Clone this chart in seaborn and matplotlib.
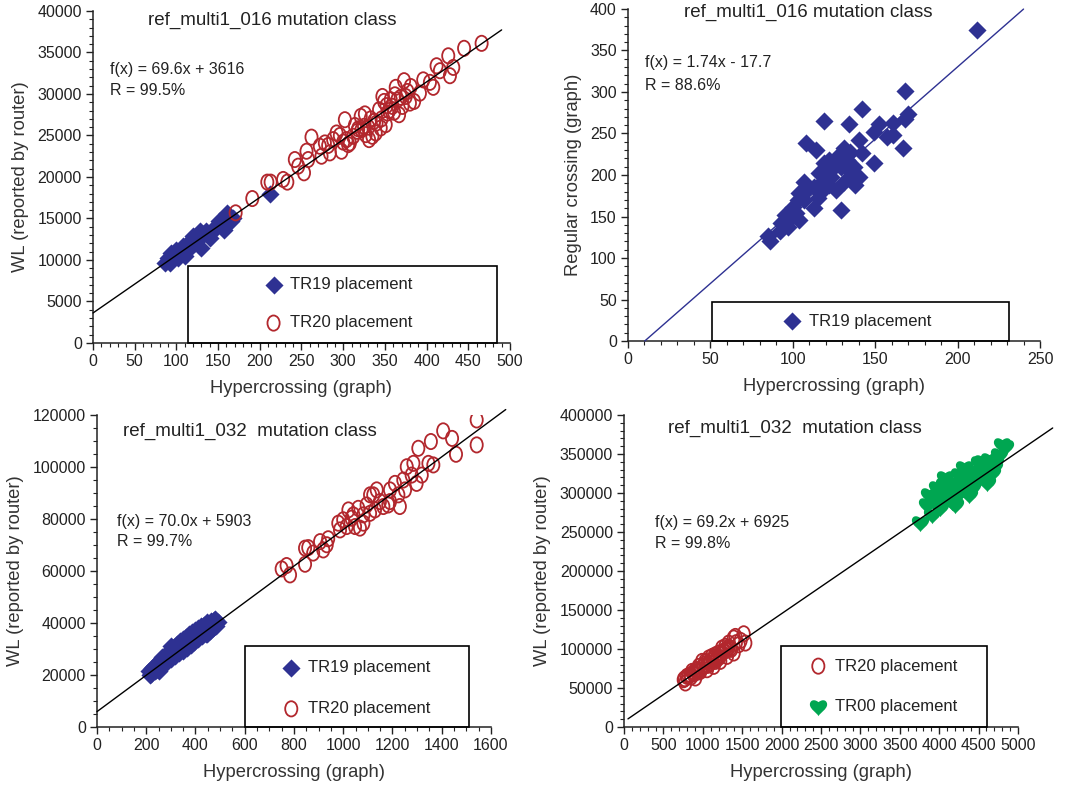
import numpy as np
import seaborn as sns
import matplotlib.pyplot as plt
from matplotlib.path import Path
from matplotlib.transforms import Affine2D
from matplotlib.patches import Rectangle
from matplotlib.ticker import MultipleLocator

# ---- panel 1: ref_multi1_016, WL vs hypercrossing ----
p1_tr19_x = [86, 90, 92, 94, 98, 100, 102, 104, 108, 110, 111, 114, 116, 117, 120, 122, 126,
             128, 130, 132, 136, 138, 140, 145, 148, 151, 153, 157, 161, 165, 168, 212]
p1_tr19_y = [9650, 10250, 9650, 10850, 10450, 11260, 10250, 10850, 11660, 10450, 11060, 12060,
             11460, 12260, 12860, 12060, 12460, 13470, 11460, 13070, 13470, 13070, 12660, 13670,
             14070, 14670, 14870, 13670, 15680, 14670, 15080, 17900]
p1_tr20_x = [171, 191, 209, 213, 228, 233, 242, 246, 253, 256, 258, 272, 274, 278, 284, 288,
             292, 298, 302, 304, 308, 312, 317, 321, 325, 327, 331, 335, 337, 340, 343, 345,
             347, 349, 353, 357, 359, 363, 365, 367, 371, 373, 375, 380, 381, 392, 396, 404,
             408, 412, 416, 426, 428, 432, 445, 466, 330, 352, 318, 362,
             262, 282, 296, 306, 314, 322, 333, 339, 346, 351, 355, 361, 369, 377, 385, 300, 326]
p1_tr20_y = [15680, 17400, 19380, 19380, 19700, 19380, 22100, 21300, 20500, 23100, 22100, 23700,
             22500, 24100, 22900, 24500, 25300, 23100, 26900, 24500, 24100, 24900, 25500, 27300,
             26100, 25100, 24500, 24900, 26700, 26500, 28100, 25900, 29700, 29100, 27700, 29300,
             28500, 30800, 29300, 27500, 28500, 31600, 29700, 28900, 30900, 30100, 31700, 31400,
             30800, 33400, 32800, 34600, 32200, 33200, 35500, 36100, 26000, 28600, 25800, 29900,
             24800, 23800, 25000, 23900, 26200, 25700, 27000, 25300, 27000, 26300, 28000, 27800,
             29600, 30300, 29100, 24200, 27600]
p1_fit = (69.6, 3616)
p1_fit_x = [0, 490]

# ---- panel 2: ref_multi1_016, regular crossing vs hypercrossing ----
p2_tr19_x = [212, 168, 142, 119, 134, 108, 114, 152, 161, 170, 168, 149, 157, 161, 167, 149,
             140, 142, 135, 131, 129, 125, 122, 119, 137, 140, 138, 131, 126, 123, 119, 116,
             117, 113, 113, 129, 107, 108, 104, 103, 100, 102, 99, 96, 95, 93, 92, 85, 86,
             123, 127, 133, 136, 122, 115, 107, 104, 97]
p2_tr19_y = [375, 301, 280, 265, 262, 239, 230, 262, 263, 273, 268, 252, 246, 248, 232, 215,
             242, 226, 228, 232, 210, 214, 218, 214, 210, 198, 188, 192, 182, 198, 194, 202,
             180, 186, 160, 158, 192, 182, 178, 170, 162, 154, 148, 146, 152, 142, 133, 127, 121,
             206, 222, 218, 202, 188, 172, 170, 146, 137]
p2_fit = (1.74, -17.7)
p2_fit_x = [10.2, 240]

# ---- panel 3: ref_multi1_032, WL vs hypercrossing ----
p3_tr19_x = [212, 218, 222, 228, 232, 238, 242, 246, 250, 255, 258, 262, 266, 270, 274, 278,
             282, 286, 290, 294, 298, 302, 306, 310, 314, 318, 322, 326, 330, 334, 338, 342,
             346, 350, 354, 358, 362, 366, 370, 374, 378, 382, 386, 390, 394, 398, 402, 406,
             410, 414, 418, 422, 426, 430, 436, 440, 444, 448, 452, 456, 462, 466, 470, 476,
             480, 486, 446, 300, 250, 480,
             215, 225, 235, 245, 252, 260, 268, 276, 284, 292, 300, 308, 316, 324, 332, 340,
             348, 356, 364, 372, 380, 388, 396, 404, 412, 420, 428, 434, 442, 450, 458, 464,
             472, 478, 484, 490]
p3_tr19_y = [21500, 20200, 22800, 21400, 23600, 22100, 24300, 22900, 25200, 23400, 26200, 24400,
             27000, 23900, 25800, 27700, 25100, 26900, 28600, 26200, 28000, 29800, 27100, 29200,
             30900, 28400, 30300, 32000, 29300, 31200, 33000, 30100, 32300, 33800, 31000, 33100,
             34700, 32000, 34200, 35800, 33200, 35200, 36700, 33900, 35900, 37300, 34800, 36600,
             38100, 35500, 37300, 38700, 36200, 38000, 39300, 36800, 38600, 40200, 37400, 39100,
             40800, 38100, 39900, 41300, 38900, 40400, 35800, 31000, 21500, 41500,
             20000, 21200, 21500, 22800, 22600, 24300, 23800, 25400, 25000, 26600, 26000, 27800,
             27200, 28900, 28300, 30000, 29400, 31100, 30500, 32200, 31600, 33300, 32700, 34400,
             33800, 35500, 34900, 36500, 35800, 37600, 37000, 38700, 38000, 39600, 38800, 40300]
p3_tr20_x = [750, 770, 784, 845, 845, 858, 878, 906, 919, 933, 939, 980, 987, 1000, 1014, 1021,
             1034, 1048, 1061, 1068, 1082, 1095, 1109, 1122, 1129, 1136, 1149, 1163, 1183, 1190,
             1210, 1224, 1230, 1244, 1251, 1258, 1278, 1285, 1298, 1305, 1319, 1346, 1356, 1366,
             1406, 1442, 1458, 1542, 1542, 1109, 1190, 1082, 1041]
p3_tr20_y = [60800, 62100, 58500, 62600, 68800, 69000, 66900, 71300, 68100, 70100, 72400, 78400,
             75800, 79700, 77100, 83500, 80300, 77100, 84100, 76500, 81600, 85400, 82200, 89300,
             83500, 91200, 86700, 84800, 85400, 91200, 93700, 89300, 84800, 95000, 91200, 100100,
             96900, 101400, 93700, 107200, 96900, 101400, 109800, 100800, 113900, 111000, 104900,
             118100, 108500, 89300, 86700, 78400, 81600]
p3_fit = (70.0, 5903)
p3_fit_x = [0, 1660]

# ---- panel 4: ref_multi1_032, WL vs hypercrossing ----
p4_tr20_x = [757, 779, 842, 905, 969, 1011, 1053, 1096, 1138, 1180, 1222, 1265, 1307, 1349,
             1392, 1413, 1519, 1540, 1455, 1328, 1244, 1159, 1074, 990, 926, 863, 799, 1032,
             1117, 1201, 1286, 948, 884, 1159, 1222, 1053, 1392,
             770, 820, 880, 940, 1000, 1060, 1120, 1180, 1240, 1300, 1360, 1420, 1480, 850,
             910, 970, 1030, 1090, 1150, 1210, 1270, 1330]
p4_tr20_y = [60600, 56400, 67000, 62800, 71300, 77700, 73400, 84100, 77700, 88400, 84100, 96900,
             90500, 101200, 94800, 116100, 119500, 107600, 105400, 107600, 101200, 92600, 88400,
             84100, 73400, 71300, 64900, 84100, 90500, 94800, 103300, 77700, 67900, 84100, 92600,
             79800, 114000,
             62000, 65500, 69500, 70500, 78000, 79000, 86500, 87000, 95000, 98500, 99500, 108000,
             111000, 64000, 72500, 73000, 81000, 81500, 89500, 89500, 97500, 102500]
p4_tr00_x = [3760, 3866, 3909, 3845, 3972, 4014, 4057, 4099, 4141, 4183, 4205, 4247, 4268, 4310,
             4332, 4374, 4395, 4437, 4501, 4522, 4564, 4606, 4627, 4670, 4712, 4754, 4797, 4839,
             4627, 4691, 4035, 4120, 4226, 4353, 4416, 4480, 4543, 4162, 3930, 4078]
p4_tr00_y = [261300, 297600, 271900, 284700, 306100, 280500, 310400, 293300, 301800, 312500,
             284700, 323200, 301800, 331700, 310400, 297600, 325300, 314600, 338100, 318900,
             331700, 312500, 342400, 325300, 340200, 348800, 361600, 359400, 327400, 333900,
             297600, 310400, 297600, 318900, 306100, 327400, 340200, 289000, 289000, 318900]
p4_fit = (69.2, 6925)
p4_fit_x = [50, 5440]

BLUE = '#2e3192'
RED = '#b2272d'
GREEN = '#00a651'
TXT = '#222222'

# marker shapes
oval = Path.unit_circle().transformed(Affine2D().scale(0.8, 1.0))
heart = Path([(0, -1), (-0.2, -0.6), (-1, -0.2), (-1, 0.35),
              (-1, 0.8), (-0.55, 1.05), (0, 0.62),
              (0.55, 1.05), (1, 0.8), (1, 0.35),
              (1, -0.2), (0.2, -0.6), (0, -1), (0, -1)],
             [Path.MOVETO, Path.CURVE4, Path.CURVE4, Path.CURVE4,
              Path.CURVE4, Path.CURVE4, Path.CURVE4,
              Path.CURVE4, Path.CURVE4, Path.CURVE4,
              Path.CURVE4, Path.CURVE4, Path.CURVE4, Path.CLOSEPOLY])

sns.set_style('ticks')
plt.rcParams['font.family'] = ['Liberation Sans', 'DejaVu Sans']
plt.rcParams['axes.edgecolor'] = TXT
plt.rcParams['xtick.color'] = TXT
plt.rcParams['ytick.color'] = TXT

fig = plt.figure(figsize=(10.68, 7.89), dpi=100)
ax1 = fig.add_axes([0.0871, 0.5653, 0.3904, 0.4208])
ax2 = fig.add_axes([0.5880, 0.5678, 0.3858, 0.4208])
ax3 = fig.add_axes([0.0908, 0.0786, 0.3689, 0.3954])
ax4 = fig.add_axes([0.5843, 0.0786, 0.3689, 0.3954])


def diamonds(ax, x, y, label):
    sns.scatterplot(x=x, y=y, ax=ax, marker='D', s=85, color=BLUE, edgecolor=BLUE,
                    linewidth=0, label=label, zorder=3)


def ovals(ax, x, y, label):
    sns.scatterplot(x=x, y=y, ax=ax, marker=oval, s=120, color=RED, facecolor='none',
                    edgecolor=RED, linewidth=1.3, label=label, zorder=3)


def hearts(ax, x, y, label):
    sns.scatterplot(x=x, y=y, ax=ax, marker=heart, s=170, color=GREEN, edgecolor=GREEN,
                    linewidth=0, label=label, zorder=3)


def fit_line(ax, fit, xr, color='black'):
    xs = np.array(xr, dtype=float)
    ax.plot(xs, fit[0] * xs + fit[1], color=color, lw=1.0, zorder=4, clip_on=False)


def style(ax, xlim, ylim, xmaj, xmin, ymaj, ymin, ylabel):
    ax.set_xlim(*xlim)
    ax.set_ylim(*ylim)
    ax.xaxis.set_major_locator(MultipleLocator(xmaj))
    ax.xaxis.set_minor_locator(MultipleLocator(xmin))
    ax.yaxis.set_major_locator(MultipleLocator(ymaj))
    ax.yaxis.set_minor_locator(MultipleLocator(ymin))
    ax.tick_params(which='major', direction='out', length=5, width=1, labelsize=11.5, pad=3)
    ax.tick_params(which='minor', direction='out', length=3, width=0.8)
    for s in ['top', 'right']:
        ax.spines[s].set_visible(False)
    for s in ['left', 'bottom']:
        ax.spines[s].set_linewidth(1.1)
    ax.set_xlabel('Hypercrossing (graph)', fontsize=13.2, color='#333333', labelpad=8)
    ax.set_ylabel(ylabel, fontsize=13.2, color='#333333', labelpad=6)


def legend_box(ax, x0, x1, y1, anchor, spacing):
    ax.add_patch(Rectangle((x0, 0), x1 - x0, y1, transform=ax.transAxes, fill=False,
                           edgecolor='black', linewidth=1.2, clip_on=False, zorder=5))
    ax.legend(loc='center left', bbox_to_anchor=anchor, bbox_transform=ax.transAxes,
              frameon=False, handlelength=1.0, handletextpad=0.5, labelspacing=spacing,
              borderpad=0, borderaxespad=0, fontsize=12, scatterpoints=1,
              labelcolor=TXT)


def notes(ax, title, tpos, eq, r, epos, dy):
    ax.text(tpos[0], tpos[1], title, transform=ax.transAxes, ha='center', va='center',
            fontsize=13.5, color=TXT)
    ax.text(epos[0], epos[1], eq, transform=ax.transAxes, ha='left', va='center',
            fontsize=11.5, color=TXT)
    ax.text(epos[0], epos[1] - dy, r, transform=ax.transAxes, ha='left', va='center',
            fontsize=11.5, color=TXT)


# panel 1
diamonds(ax1, p1_tr19_x, p1_tr19_y, 'TR19 placement')
ovals(ax1, p1_tr20_x, p1_tr20_y, 'TR20 placement')
fit_line(ax1, p1_fit, p1_fit_x)
style(ax1, (0, 500), (0, 40000), 50, 10, 5000, 1000, 'WL (reported by router)')
legend_box(ax1, 0.228, 0.969, 0.232, (0.413, 0.118), 1.4)
notes(ax1, 'ref_multi1_016 mutation class', (0.429, 0.973),
      'f(x) = 69.6x + 3616', 'R = 99.5%', (0.041, 0.825), 0.066)

# panel 2
diamonds(ax2, p2_tr19_x, p2_tr19_y, 'TR19 placement')
fit_line(ax2, p2_fit, p2_fit_x, color=BLUE)
style(ax2, (0, 250), (0, 400), 50, 10, 50, 10, 'Regular crossing (graph)')
legend_box(ax2, 0.204, 0.925, 0.117, (0.379, 0.060), 1.1)
notes(ax2, 'ref_multi1_016 mutation class', (0.437, 0.991),
      'f(x) = 1.74x - 17.7', 'R = 88.6%', (0.041, 0.840), 0.069)

# panel 3
diamonds(ax3, p3_tr19_x, p3_tr19_y, 'TR19 placement')
ovals(ax3, p3_tr20_x, p3_tr20_y, 'TR20 placement')
fit_line(ax3, p3_fit, p3_fit_x)
style(ax3, (0, 1600), (0, 120000), 200, 50, 20000, 5000, 'WL (reported by router)')
legend_box(ax3, 0.376, 0.944, 0.260, (0.472, 0.124), 1.55)
notes(ax3, 'ref_multi1_032  mutation class', (0.388, 0.946),
      'f(x) = 70.0x + 5903', 'R = 99.7%', (0.051, 0.660), 0.067)

# panel 4
ovals(ax4, p4_tr20_x, p4_tr20_y, 'TR20 placement')
hearts(ax4, p4_tr00_x, p4_tr00_y, 'TR00 placement')
fit_line(ax4, p4_fit, p4_fit_x)
style(ax4, (0, 5000), (0, 400000), 500, 100, 50000, 10000, 'WL (reported by router)')
legend_box(ax4, 0.398, 0.921, 0.260, (0.472, 0.130), 1.55)
notes(ax4, 'ref_multi1_032  mutation class', (0.434, 0.958),
      'f(x) = 69.2x + 6925', 'R = 99.8%', (0.079, 0.654), 0.067)

fig.savefig('out.png', dpi=100)
